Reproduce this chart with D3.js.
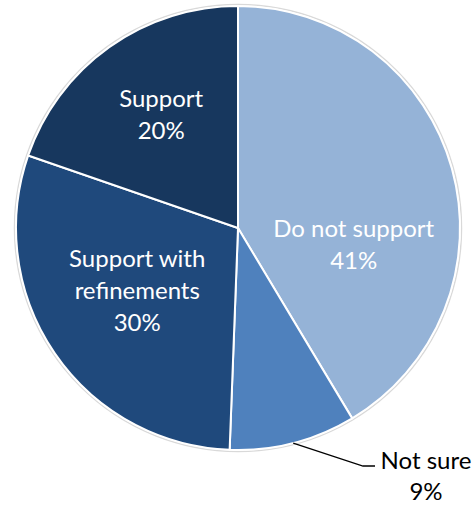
<!DOCTYPE html>
<html>
<head>
<meta charset="utf-8">
<script src="https://cdn.jsdelivr.net/npm/d3@7"></script>
<style>
  html, body { margin: 0; padding: 0; background: #fff; }
  svg { display: block; }
  text { font-family: Lato, "Open Sans", sans-serif; font-size: 24px; }
</style>
</head>
<body>
<svg id="chart" width="474" height="506"></svg>
<script>
// Data
var categories = ["Do not support", "Not sure", "Support with refinements", "Support"];
var shares = [41.4, 9.2, 29.7, 19.7];
var colors = ["#95b3d7", "#4f81bd", "#1f497c", "#17375e"];
// label lines for each slice
var labelLines = [["Do not support"], ["Not sure"], ["Support with", "refinements"], ["Support"]];

var width = 474, height = 506;
var cx = 238, cy = 228, radius = 222;

var svg = d3.select("#chart");
var g = svg.append("g").attr("transform", "translate(" + cx + "," + cy + ")");

var data = categories.map(function(c, i) {
    return { name: c, value: shares[i], color: colors[i], lines: labelLines[i] };
});

var pie = d3.pie().sort(null).value(function(d) { return d.value; });
var arc = d3.arc().innerRadius(0).outerRadius(radius);
var labelArc = d3.arc().innerRadius(radius * 0.55).outerRadius(radius * 0.55);
var edgeArc = d3.arc().innerRadius(radius).outerRadius(radius);

var arcs = pie(data);

// soft outer shadow ring
g.append("circle")
    .attr("r", radius + 1.5)
    .attr("fill", "none")
    .attr("stroke", "#d9d9d9")
    .attr("stroke-width", 1.5);

g.selectAll("path.slice")
    .data(arcs)
    .enter()
    .append("path")
    .attr("class", "slice")
    .attr("d", arc)
    .attr("fill", function(d) { return d.data.color; })
    .attr("stroke", "#fff")
    .attr("stroke-width", 2)
    .attr("stroke-linejoin", "round");

// nudges for inside labels (Excel "best fit" placement)
var nudge = {
    "Do not support": [-2, 50],
    "Support with refinements": [0, -6],
    "Support": [-6, -14]
};
var lineH = 32;

arcs.forEach(function(d) {
    var pct = Math.round(d.data.value) + "%";
    var lines = d.data.lines.concat([pct]);
    if (d.data.name === "Not sure") {
        // outside label with leader line
        var p = edgeArc.centroid(d);
        var lx = 363 - cx, ly = 466 - cy;
        g.append("polyline")
            .attr("points", [p, [lx, ly], [lx + 12, ly]].map(function(q) { return q.join(","); }).join(" "))
            .attr("fill", "none")
            .attr("stroke", "#000")
            .attr("stroke-width", 1.3);
        var t = g.append("text")
            .attr("text-anchor", "middle")
            .attr("fill", "#000");
        lines.forEach(function(s, k) {
            t.append("tspan")
                .attr("x", 426 - cx)
                .attr("y", 469 - cy + k * 31)
                .text(s);
        });
        return;
    }
    var c = labelArc.centroid(d);
    var n = nudge[d.data.name] || [0, 0];
    var x0 = c[0] + n[0];
    var yMid = c[1] + n[1];
    var y0 = yMid - (lines.length - 1) * lineH / 2 + 8;
    var t = g.append("text")
        .attr("text-anchor", "middle")
        .attr("fill", "#fff");
    lines.forEach(function(s, k) {
        t.append("tspan")
            .attr("x", x0)
            .attr("y", y0 + k * lineH)
            .text(s);
    });
});
</script>
</body>
</html>
